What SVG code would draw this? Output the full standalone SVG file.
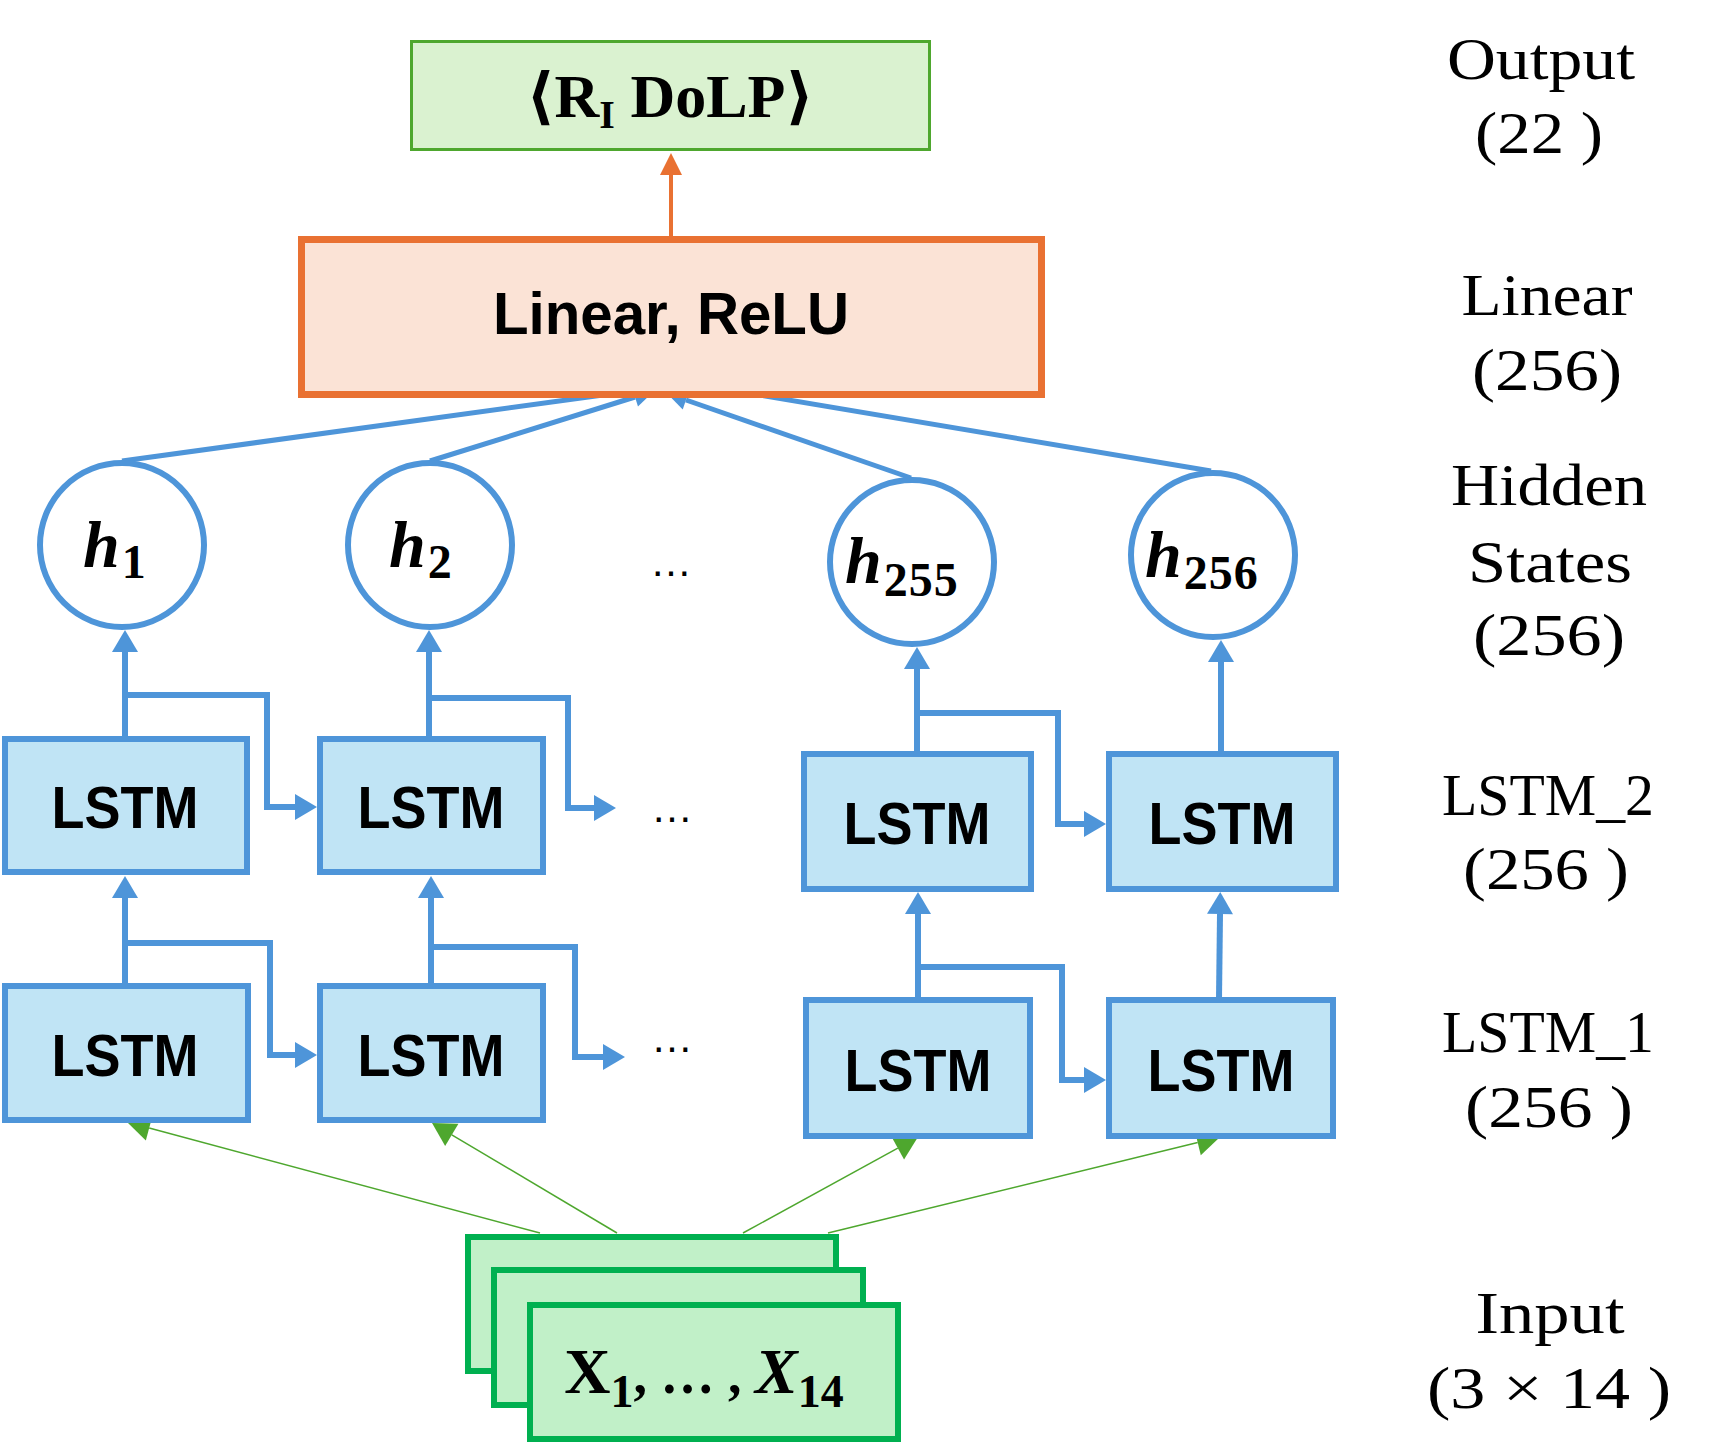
<svg xmlns="http://www.w3.org/2000/svg" width="1725" height="1444" viewBox="0 0 1725 1444">
<style>
.lstm{fill:#c0e4f5;stroke:#4e95d9;stroke-width:6}
.hc{fill:#ffffff;stroke:#4e95d9;stroke-width:6}
.lt{font-family:"Liberation Sans",Arial,sans-serif;font-weight:bold;font-size:59px;fill:#000;text-anchor:middle}
.ht{font-family:"Liberation Serif","DejaVu Serif",serif;font-weight:bold;font-style:italic;font-size:66px;fill:#000}
.sub{font-style:normal;font-size:48px}
.lab{font-family:"Liberation Serif","DejaVu Serif",serif;font-size:59px;fill:#000;text-anchor:middle}
.dots{font-family:"Liberation Sans",Arial,sans-serif;font-size:42px;fill:#000;text-anchor:middle}
.bl{fill:none;stroke:#4e95d9;stroke-width:6;stroke-linejoin:miter}
.bd{fill:none;stroke:#4e95d9;stroke-width:5}
.gl{fill:none;stroke:#4ea72e;stroke-width:1.5}
.inp{fill:#c1f0c8;stroke:#00b050;stroke-width:6}
</style>
<defs>
<marker id="ab" markerUnits="userSpaceOnUse" markerWidth="22" markerHeight="26" refX="0" refY="13" orient="auto" overflow="visible"><path d="M0,0 L22,13 L0,26 z" fill="#4e95d9"/></marker>
<marker id="abs" markerUnits="userSpaceOnUse" markerWidth="20" markerHeight="20" refX="0" refY="10" orient="auto" overflow="visible"><path d="M0,0 L20,10 L0,20 z" fill="#4e95d9"/></marker>
<marker id="ag" markerUnits="userSpaceOnUse" markerWidth="23" markerHeight="26" refX="0" refY="13" orient="auto" overflow="visible"><path d="M0,0 L23,13 L0,26 z" fill="#4ea72e"/></marker>
<marker id="ao" markerUnits="userSpaceOnUse" markerWidth="22" markerHeight="22" refX="0" refY="11" orient="auto" overflow="visible"><path d="M0,0 L22,11 L0,22 z" fill="#e97132"/></marker>
</defs>
<rect x="0" y="0" width="1725" height="1444" fill="#ffffff"/>

<g id="connectors">
<path d="M671,236 V175" fill="none" stroke="#e97132" stroke-width="4" marker-end="url(#ao)"/>
<path class="bd" d="M122,461 L625,392"/>
<path class="bd" d="M430,461 L635,397" marker-end="url(#abs)"/>
<path class="bd" d="M911,478 L686,400" marker-end="url(#abs)"/>
<path class="bd" d="M1211,471 L700,385"/>
<path class="bl" d="M125,738 V652" marker-end="url(#ab)"/>
<path class="bl" d="M429,738 V652" marker-end="url(#ab)"/>
<path class="bl" d="M917,753 V669" marker-end="url(#ab)"/>
<path class="bl" d="M1221,753 V662" marker-end="url(#ab)"/>
<path class="bl" d="M125,695 H267 V807 H295" marker-end="url(#ab)"/>
<path class="bl" d="M429,698 H568 V808 H594" marker-end="url(#ab)"/>
<path class="bl" d="M917,713 H1058 V824 H1084" marker-end="url(#ab)"/>
<path class="bl" d="M125,985 V898" marker-end="url(#ab)"/>
<path class="bl" d="M431,985 V898" marker-end="url(#ab)"/>
<path class="bl" d="M918,999 V914" marker-end="url(#ab)"/>
<path class="bl" d="M1219,999 L1220,914" marker-end="url(#ab)"/>
<path class="bl" d="M125,943 H270 V1055 H295" marker-end="url(#ab)"/>
<path class="bl" d="M431,947 H575 V1057 H603" marker-end="url(#ab)"/>
<path class="bl" d="M918,967 H1062 V1080 H1084" marker-end="url(#ab)"/>
<path class="gl" d="M540,1233 L149.2,1128" marker-end="url(#ag)"/>
<path class="gl" d="M617,1233 L451.8,1134.8" marker-end="url(#ag)"/>
<path class="gl" d="M743,1233 L897.8,1148.1" marker-end="url(#ag)"/>
<path class="gl" d="M828,1233 L1197.7,1142.5" marker-end="url(#ag)"/>
</g>

<g id="output">
<rect x="411.5" y="41.5" width="518" height="108" fill="#daf2d0" stroke="#4ea72e" stroke-width="3"/>
<text x="670" y="117" font-family="'Liberation Serif','DejaVu Serif',serif" font-weight="bold" font-size="62" text-anchor="middle" fill="#000">⟨R<tspan font-size="40" dy="11">I</tspan><tspan dy="-11"> DoLP⟩</tspan></text>
</g>

<g id="linear">
<rect x="301.5" y="239.5" width="740" height="155" fill="#fbe3d6" stroke="#e97132" stroke-width="7"/>
<text class="lt" x="671" y="334" font-size="60" textLength="356" lengthAdjust="spacingAndGlyphs">Linear, ReLU</text>
</g>

<g id="h1"><circle class="hc" cx="122" cy="545" r="82"/><text class="ht" x="83" y="567">h<tspan class="sub" dy="11" dx="2">1</tspan></text></g>
<g id="h2"><circle class="hc" cx="430" cy="545" r="82"/><text class="ht" x="389" y="567">h<tspan class="sub" dy="11" dx="2">2</tspan></text></g>
<g id="hdots"><text class="dots" x="671" y="576">…</text></g>
<g id="h255"><circle class="hc" cx="912" cy="562" r="82"/><text class="ht" x="845" y="583">h<tspan class="sub" dy="13" dx="2" font-size="50" letter-spacing="1">255</tspan></text></g>
<g id="h256"><circle class="hc" cx="1213" cy="555" r="82"/><text class="ht" x="1145" y="577">h<tspan class="sub" dy="12" dx="2" font-size="50" letter-spacing="1">256</tspan></text></g>

<g id="lstm2_1"><rect class="lstm" x="5" y="739" width="242" height="133"/><text class="lt" x="125" y="828" textLength="147" lengthAdjust="spacingAndGlyphs">LSTM</text></g>
<g id="lstm2_2"><rect class="lstm" x="320" y="739" width="223" height="133"/><text class="lt" x="431" y="828" textLength="147" lengthAdjust="spacingAndGlyphs">LSTM</text></g>
<g id="lstm2_dots"><text class="dots" x="672" y="822">…</text></g>
<g id="lstm2_255"><rect class="lstm" x="804" y="754" width="227" height="135"/><text class="lt" x="917" y="844" textLength="147" lengthAdjust="spacingAndGlyphs">LSTM</text></g>
<g id="lstm2_256"><rect class="lstm" x="1109" y="754" width="227" height="135"/><text class="lt" x="1222" y="844" textLength="147" lengthAdjust="spacingAndGlyphs">LSTM</text></g>

<g id="lstm1_1"><rect class="lstm" x="5" y="986" width="243" height="134"/><text class="lt" x="125" y="1076" textLength="147" lengthAdjust="spacingAndGlyphs">LSTM</text></g>
<g id="lstm1_2"><rect class="lstm" x="320" y="986" width="223" height="134"/><text class="lt" x="431" y="1076" textLength="147" lengthAdjust="spacingAndGlyphs">LSTM</text></g>
<g id="lstm1_dots"><text class="dots" x="672" y="1052">…</text></g>
<g id="lstm1_255"><rect class="lstm" x="806" y="1000" width="224" height="136"/><text class="lt" x="918" y="1091" textLength="147" lengthAdjust="spacingAndGlyphs">LSTM</text></g>
<g id="lstm1_256"><rect class="lstm" x="1109" y="1000" width="224" height="136"/><text class="lt" x="1221" y="1091" textLength="147" lengthAdjust="spacingAndGlyphs">LSTM</text></g>

<g id="input">
<rect class="inp" x="468" y="1237" width="368" height="134"/>
<rect class="inp" x="494" y="1270" width="369" height="135"/>
<rect class="inp" x="530" y="1305" width="368" height="134"/>
<text x="704" y="1393" font-family="'Liberation Serif','DejaVu Serif',serif" font-weight="bold" font-size="64" text-anchor="middle" fill="#000">X<tspan font-size="46" dy="14">1</tspan><tspan dy="-14" font-size="54">, … , </tspan><tspan font-style="italic">X</tspan><tspan font-size="46" dy="14">14</tspan></text>
</g>

<g id="labels">
<text class="lab" x="1541" y="79" textLength="188" lengthAdjust="spacingAndGlyphs">Output</text>
<text class="lab" x="1539" y="153" textLength="128" lengthAdjust="spacingAndGlyphs">(22 )</text>
<text class="lab" x="1547" y="315" textLength="171" lengthAdjust="spacingAndGlyphs">Linear</text>
<text class="lab" x="1547" y="390" textLength="150" lengthAdjust="spacingAndGlyphs">(256)</text>
<text class="lab" x="1549" y="505" textLength="196" lengthAdjust="spacingAndGlyphs">Hidden</text>
<text class="lab" x="1550" y="582" textLength="164" lengthAdjust="spacingAndGlyphs">States</text>
<text class="lab" x="1549" y="655" textLength="152" lengthAdjust="spacingAndGlyphs">(256)</text>
<text class="lab" x="1548" y="815" textLength="212" lengthAdjust="spacingAndGlyphs">LSTM_2</text>
<text class="lab" x="1546" y="889" textLength="166" lengthAdjust="spacingAndGlyphs">(256 )</text>
<text class="lab" x="1548" y="1052" textLength="212" lengthAdjust="spacingAndGlyphs">LSTM_1</text>
<text class="lab" x="1549" y="1127" textLength="168" lengthAdjust="spacingAndGlyphs">(256 )</text>
<text class="lab" x="1550" y="1333" textLength="149" lengthAdjust="spacingAndGlyphs">Input</text>
<text class="lab" x="1549" y="1408" textLength="244" lengthAdjust="spacingAndGlyphs">(3 × 14 )</text>
</g>
</svg>
